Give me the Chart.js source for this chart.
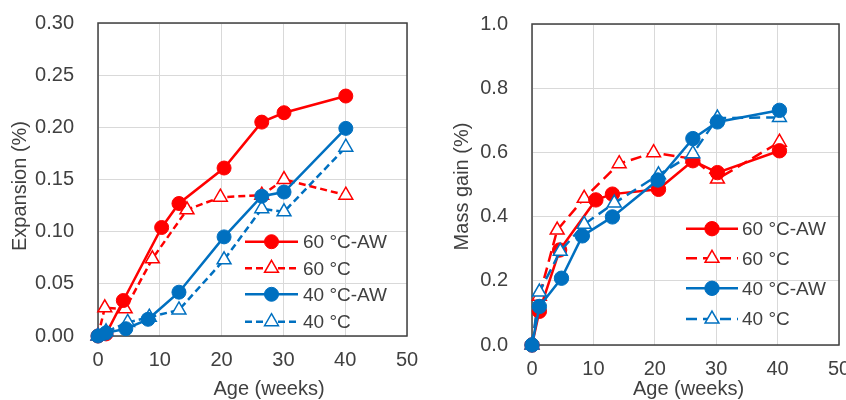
<!DOCTYPE html>
<html>
<head>
<meta charset="utf-8">
<script src="https://cdn.jsdelivr.net/npm/chart.js@4"></script>
<style>
html,body{margin:0;padding:0;background:#fff;overflow:hidden;width:846px;height:400px;}
#c1{position:absolute;left:0;top:0;}
#c2{position:absolute;left:423px;top:0;}
</style>
</head>
<body>
<canvas id="c1" width="423" height="400"></canvas>
<canvas id="c2" width="443" height="400"></canvas>
<script>
// ---- Data ----
const seriesNames = ['60 °C-AW', '60 °C', '40 °C-AW', '40 °C'];
const xTitle = 'Age (weeks)';
const xTicks = [0, 10, 20, 30, 40, 50];

// Left panel: Expansion (%) vs Age (weeks)
const expTitle   = 'Expansion (%)';
const expAge60AW = [0, 1.3, 4.1, 10.3, 13.1, 20.4, 26.5, 30.1, 40.1];
const exp60AW    = [0, 0.002, 0.034, 0.104, 0.127, 0.161, 0.205, 0.214, 0.230];
const expAge60   = [0, 1.1, 4.4, 8.8, 14.4, 19.8, 26.5, 30.1, 40.1];
const exp60      = [0, 0.027, 0.026, 0.074, 0.121, 0.133, 0.135, 0.150, 0.135];
const expAge40AW = [0, 1.3, 4.5, 8.1, 13.1, 20.4, 26.5, 30.1, 40.1];
const exp40AW    = [0, 0.003, 0.007, 0.016, 0.042, 0.095, 0.134, 0.138, 0.199];
const expAge40   = [0, 1.3, 4.8, 8.3, 13.1, 20.4, 26.5, 30.1, 40.1];
const exp40      = [0, 0.004, 0.013, 0.018, 0.025, 0.073, 0.122, 0.119, 0.181];
const expYTicks  = [0, 0.05, 0.10, 0.15, 0.20, 0.25, 0.30];

// Right panel: Mass gain (%) vs Age (weeks)
const massTitle   = 'Mass gain (%)';
const massAge60AW = [0, 1.2, 4.5, 10.4, 13.1, 20.6, 26.2, 30.2, 40.3];
const mass60AW    = [0, 0.105, 0.296, 0.452, 0.470, 0.485, 0.574, 0.537, 0.605];
const massAge60   = [0, 1.2, 4.1, 8.5, 14.2, 19.8, 26.2, 30.2, 40.3];
const mass60      = [0, 0.152, 0.358, 0.457, 0.565, 0.599, 0.580, 0.517, 0.632];
const massAge40AW = [0, 1.2, 4.8, 8.2, 13.1, 20.5, 26.2, 30.2, 40.3];
const mass40AW    = [0, 0.120, 0.208, 0.340, 0.399, 0.514, 0.643, 0.695, 0.731];
const massAge40   = [0, 1.2, 4.6, 8.5, 13.4, 20.6, 26.2, 30.2, 40.3];
const mass40      = [0, 0.165, 0.292, 0.376, 0.442, 0.530, 0.596, 0.707, 0.709];
const massYTicks  = [0, 0.2, 0.4, 0.6, 0.8, 1.0];

const RED = '#FF0000';
const BLUE = '#0070C0';
const TXT = '#404040';
const FONT = "'Liberation Sans', Arial, sans-serif";

function pts(xs, ys) { return xs.map((x, i) => ({x: x, y: ys[i]})); }

function makeDatasets(cfg) {
  const [a60AW, v60AW, a60, v60, a40AW, v40AW, a40, v40] = cfg.data;
  const base = {showLine: true, clip: false, borderWidth: 2.5, tension: 0};
  const circ = (c) => ({pointStyle: 'circle', pointRadius: cfg.cr, pointBackgroundColor: c, pointBorderColor: c, pointBorderWidth: 1});
  const tri = (c) => ({pointStyle: 'triangle', pointRadius: cfg.tr, pointBackgroundColor: '#FFFFFF', pointBorderColor: c, pointBorderWidth: 1.5, borderDash: cfg.dash});
  return [
    Object.assign({label: seriesNames[0], data: pts(a60AW, v60AW), borderColor: RED, order: 3}, base, circ(RED)),
    Object.assign({label: seriesNames[1], data: pts(a60, v60), borderColor: RED, order: 4}, base, tri(RED)),
    Object.assign({label: seriesNames[2], data: pts(a40AW, v40AW), borderColor: BLUE, order: 1}, base, circ(BLUE)),
    Object.assign({label: seriesNames[3], data: pts(a40, v40), borderColor: BLUE, order: 2}, base, tri(BLUE))
  ];
}

function drawMarker(ctx, style, x, y, r, fill, stroke, bw) {
  ctx.save();
  ctx.beginPath();
  if (style === 'circle') {
    ctx.arc(x, y, r, 0, Math.PI * 2);
  } else {
    let rad = 0;
    ctx.moveTo(x + Math.sin(rad) * r, y - Math.cos(rad) * r);
    rad += 2 * Math.PI / 3;
    ctx.lineTo(x + Math.sin(rad) * r, y - Math.cos(rad) * r);
    rad += 2 * Math.PI / 3;
    ctx.lineTo(x + Math.sin(rad) * r, y - Math.cos(rad) * r);
    ctx.closePath();
  }
  ctx.fillStyle = fill;
  ctx.fill();
  ctx.lineWidth = bw;
  ctx.strokeStyle = stroke;
  ctx.setLineDash([]);
  ctx.stroke();
  ctx.restore();
}

const frameAndLegend = {
  id: 'frameAndLegend',
  beforeDatasetsDraw(chart) {
    const {ctx, chartArea: a} = chart;
    ctx.save();
    ctx.strokeStyle = '#404040';
    ctx.lineWidth = 1.5;
    ctx.strokeRect(a.left, a.top, a.right - a.left, a.bottom - a.top);
    ctx.restore();
  },
  afterDraw(chart, args, opts) {
    const ctx = chart.ctx;
    // axis titles
    ctx.save();
    ctx.fillStyle = TXT;
    ctx.font = '20px ' + FONT;
    ctx.textAlign = 'center';
    ctx.textBaseline = 'middle';
    ctx.fillText(opts.xTitle, opts.xTitleX, opts.xTitleY);
    ctx.translate(opts.yTitleX, opts.yTitleY);
    ctx.rotate(-Math.PI / 2);
    ctx.fillText(opts.yTitle, 0, 0);
    ctx.restore();
    // legend
    chart.data.datasets.forEach((ds, i) => {
      const y = opts.rows[i];
      ctx.save();
      ctx.strokeStyle = ds.borderColor;
      ctx.lineWidth = ds.borderWidth;
      ctx.setLineDash(ds.borderDash || []);
      ctx.beginPath();
      ctx.moveTo(opts.x1, y);
      ctx.lineTo(opts.x2, y);
      ctx.stroke();
      ctx.restore();
      drawMarker(ctx, ds.pointStyle, (opts.x1 + opts.x2) / 2, y, ds.pointRadius,
                 ds.pointBackgroundColor, ds.pointBorderColor, ds.pointBorderWidth);
      ctx.save();
      ctx.fillStyle = TXT;
      ctx.font = opts.fontSize + 'px ' + FONT;
      ctx.textAlign = 'left';
      ctx.textBaseline = 'middle';
      ctx.fillText(ds.label, opts.tx, y + 1);
      ctx.restore();
    });
  }
};

function makeChart(id, cfg) {
  return new Chart(document.getElementById(id), {
    type: 'scatter',
    data: {datasets: makeDatasets(cfg)},
    plugins: [frameAndLegend],
    options: {
      responsive: false,
      animation: false,
      events: [],
      layout: {padding: {left: 0, right: cfg.padRight, top: cfg.padTop, bottom: 0}},
      plugins: {
        legend: {display: false},
        tooltip: {enabled: false},
        frameAndLegend: cfg.legend
      },
      scales: {
        x: {
          type: 'linear', min: 0, max: 50,
          afterBuildTicks: (s) => { s.ticks = xTicks.map(v => ({value: v})); },
          ticks: {color: TXT, font: {size: 20, family: FONT}, padding: 12, maxRotation: 0, autoSkip: false},
          grid: {color: '#D9D9D9', lineWidth: 1, drawTicks: false},
          border: {display: false},
          title: {display: false},
          afterFit: (s) => { s.height = cfg.xH; s.paddingLeft = 0; s.paddingRight = 0; }
        },
        y: {
          type: 'linear', min: 0, max: cfg.yMax,
          afterBuildTicks: (s) => { s.ticks = cfg.yTicks.map(v => ({value: v})); },
          ticks: {color: TXT, font: {size: 20, family: FONT}, padding: 24, autoSkip: false,
                  callback: (v) => Number(v).toFixed(cfg.dec)},
          grid: {color: '#D9D9D9', lineWidth: 1, drawTicks: false},
          border: {display: false},
          title: {display: false},
          afterFit: (s) => { s.width = cfg.yW; s.paddingTop = 0; s.paddingBottom = 0; }
        }
      }
    }
  });
}

makeChart('c1', {
  data: [expAge60AW, exp60AW, expAge60, exp60, expAge40AW, exp40AW, expAge40, exp40],
  yMax: 0.30, yTicks: expYTicks, dec: 2,
  yW: 98, xH: 64, padTop: 23, padRight: 16,
  cr: 7, tr: 8, dash: [7, 4],
  legend: {x1: 245, x2: 298, tx: 303, rows: [241.7, 268.3, 294.3, 321.7], fontSize: 19,
           xTitle: xTitle, xTitleX: 269, xTitleY: 389, yTitle: expTitle, yTitleX: 20, yTitleY: 186}
});

makeChart('c2', {
  data: [massAge60AW, mass60AW, massAge60, mass60, massAge40AW, mass40AW, massAge40, mass40],
  yMax: 1.0, yTicks: massYTicks, dec: 1,
  yW: 109, xH: 55, padTop: 24, padRight: 27,
  cr: 7.2, tr: 8, dash: [11, 6],
  legend: {x1: 263, x2: 315, tx: 319, rows: [228.7, 258.3, 288.3, 319], fontSize: 19,
           xTitle: xTitle, xTitleX: 265.5, xTitleY: 389, yTitle: massTitle, yTitleX: 39.7, yTitleY: 186.5}
});
</script>
</body>
</html>
